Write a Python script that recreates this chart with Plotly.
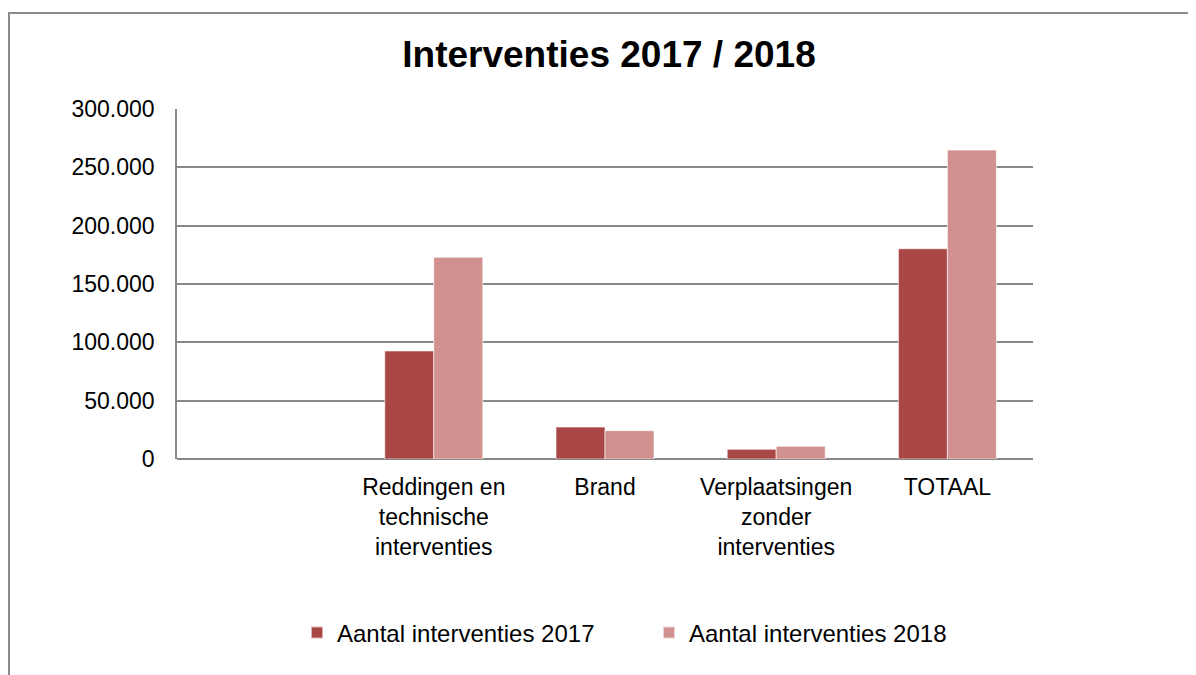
import plotly.graph_objects as go

categories = [" ", "Reddingen en<br>technische<br>interventies", "Brand",
              "Verplaatsingen<br>zonder<br>interventies", "TOTAAL"]
values_2017 = [None, 92600, 27400, 8300, 180200]
values_2018 = [None, 172900, 24300, 10900, 264800]
series_names = ["Aantal interventies 2017", "Aantal interventies 2018"]
tick_vals = [0, 50000, 100000, 150000, 200000, 250000, 300000]

FONT = "Liberation Sans, Arial, sans-serif"
GRID = "#888888"

# page is rendered with an 8px body margin; convert page pixels to figure pixels
OFF = 8

fig = go.Figure()
fig.add_trace(go.Bar(x=categories, y=values_2017, name=series_names[0],
                     marker=dict(color="#A84745", line=dict(color="rgba(255,255,255,0.6)", width=1))))
fig.add_trace(go.Bar(x=categories, y=values_2018, name=series_names[1],
                     marker=dict(color="#D29191", line=dict(color="rgba(255,255,255,0.6)", width=1))))

# plot area in page pixels: x 177..1033, y 109..459
L, R, T, B = 177 - OFF, 1033 - OFF, 109 - OFF, 459 - OFF
W, H = R - L, B - T

def px_x(x):
    return (x - OFF - L) / W

def px_y(y):
    return (B - (y - OFF)) / H

fig.update_layout(
    width=1196, height=675,
    margin=dict(l=L, r=1196 - R, t=T, b=675 - B, pad=0),
    paper_bgcolor="white", plot_bgcolor="white",
    separators=",.",
    barmode="group", bargap=0.4276, bargroupgap=0,
    font=dict(family=FONT, size=23, color="#000000"),
    title=dict(text="<b>Interventies 2017 / 2018</b>", x=px_x(609), xref="paper",
               xanchor="center", y=1 - (54 - OFF) / 675, yref="container", yanchor="middle",
               font=dict(family=FONT, size=37, color="#000000")),
    xaxis=dict(type="category", showgrid=False, showline=False, ticks="",
               tickfont=dict(size=23), ticklabelstandoff=12),
    yaxis=dict(range=[0, 300000], tickvals=tick_vals, tickformat=",d",
               showgrid=True, gridcolor=GRID, gridwidth=1.6,
               showline=True, linecolor=GRID, linewidth=1.6,
               zeroline=True, zerolinecolor=GRID, zerolinewidth=1.6,
               ticks="", ticklabelstandoff=16, tickfont=dict(size=23)),
    legend=dict(orientation="h", x=px_x(297), xanchor="left",
                y=px_y(633), yanchor="middle", font=dict(size=24),
                entrywidth=307, entrywidthmode="pixels",
                itemsizing="constant", traceorder="normal"),
    showlegend=True,
    shapes=[dict(type="rect", xref="paper", yref="paper",
                 x0=px_x(9), x1=px_x(1215), y0=px_y(700), y1=px_y(13),
                 line=dict(color="#8a8a8a", width=2), fillcolor="rgba(0,0,0,0)",
                 layer="below")],
)

fig.write_html("out.html")
